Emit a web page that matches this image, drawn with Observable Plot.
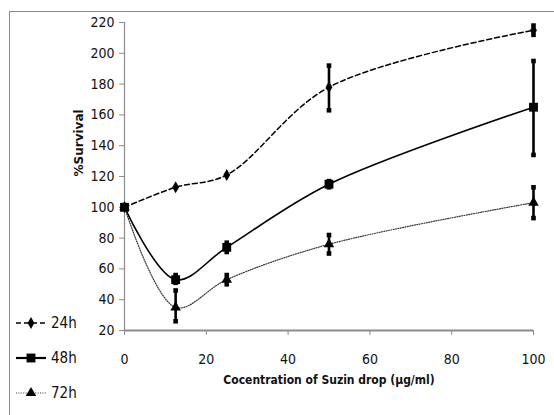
<!DOCTYPE html>
<html><head><meta charset="utf-8">
<script src="https://cdn.jsdelivr.net/npm/d3@7"></script>
<script src="https://cdn.jsdelivr.net/npm/@observablehq/plot@0.6"></script>
<style>
body{margin:0;background:#fff;}
#wrap{position:relative;width:554px;height:415px;overflow:hidden;font-family:"Liberation Sans Narrow","DejaVu Sans Condensed","Roboto",sans-serif;}
#frame{position:absolute;left:9px;top:11px;width:600px;height:500px;border-top:1.5px solid #8c8c8c;border-left:1.5px solid #8c8c8c;}
#chart{position:absolute;left:0;top:0;}
.leg{position:absolute;left:16px;height:20px;display:flex;align-items:center;font-size:15px;color:#111;}
.leg svg{margin-right:4px;}
</style></head>
<body>
<div id="wrap"><div id="frame"></div><div id="chart"></div><div id="legend"></div></div>
<script>
const concentrations = [0, 12.5, 25, 50, 100];
const seriesNames = ["24h", "48h", "72h"];
const surv24 = [100, 113, 121, 178, 215];
const surv48 = [100, 53, 74, 115, 165];
const surv72 = [100, 35, 53, 76, 103];
const err24Low = [null, null, null, 163, 212];
const err24High = [null, null, null, 192, 218];
const err48Low = [null, 51, 71, 113, 134];
const err48High = [null, 56, 77, 117, 195];
const err72Low = [null, 26, 50, 70, 93];
const err72High = [null, 46, 56, 82, 113];
const xTicks = [0, 20, 40, 60, 80, 100];
const yTicks = [20, 40, 60, 80, 100, 120, 140, 160, 180, 200, 220];
const xTitle = "Cocentration of Suzin drop (µg/ml)";
const yTitle = "%Survival";

const vals = {"24h": surv24, "48h": surv48, "72h": surv72};
const lows = {"24h": err24Low, "48h": err48Low, "72h": err72Low};
const highs = {"24h": err24High, "48h": err48High, "72h": err72High};
const rows = seriesNames.flatMap(s => concentrations.map((c, i) => ({series: s, x: c, y: vals[s][i], lo: lows[s][i], hi: highs[s][i]})));
const of = s => rows.filter(r => r.series === s);
const errs = rows.filter(r => r.lo != null);

const style = {
  "24h": {dash: "5,3", width: 1.5, color: "#000", symbol: "diamond", r: 3.6},
  "48h": {dash: null, width: 1.6, color: "#000", symbol: "square", r: 5},
  "72h": {dash: "1,1.4", width: 1.2, color: "#333", symbol: "triangle", r: 3.9}
};

const marks = [
  Plot.ruleX([0], {stroke: "#8c8c8c", strokeWidth: 1.2}),
  Plot.ruleY([20], {stroke: "#8c8c8c", strokeWidth: 2.2}),
  Plot.axisY({ticks: yTicks, tickSize: 5, tickPadding: 5, fontSize: 14, stroke: "#8c8c8c", fill: "#111", label: null}),
  Plot.axisX({ticks: xTicks, tickSize: 5, tickPadding: 19, fontSize: 14, stroke: "#8c8c8c", fill: "#111", label: null})
];
for (const s of seriesNames) {
  const st = style[s];
  marks.push(Plot.line(of(s), {x: "x", y: "y", curve: "catmull-rom", stroke: st.color, strokeWidth: st.width, strokeDasharray: st.dash}));
}
marks.push(Plot.ruleX(errs, {x: "x", y1: "lo", y2: "hi", stroke: "#000", strokeWidth: 2.6}));
marks.push(Plot.dot(errs, {x: "x", y: "lo", symbol: "square", r: 2.6, fill: "#000", stroke: "none"}));
marks.push(Plot.dot(errs, {x: "x", y: "hi", symbol: "square", r: 2.6, fill: "#000", stroke: "none"}));
for (const s of seriesNames) {
  const st = style[s];
  marks.push(Plot.dot(of(s), {x: "x", y: "y", symbol: st.symbol, r: st.r, fill: "#000", stroke: "none"}));
}
marks.push(Plot.text([xTitle], {frameAnchor: "bottom", dy: 53, fontWeight: "bold", fontSize: 12, fill: "#111"}));
marks.push(Plot.text([yTitle], {frameAnchor: "left", dx: -45, rotate: -90, fontWeight: "bold", fontSize: 12, fill: "#111", fontFamily: "DejaVu Sans"}));

const chart = Plot.plot({
  width: 554, height: 415,
  marginLeft: 124, marginRight: 21, marginTop: 22, marginBottom: 85,
  x: {domain: [0, 100]},
  y: {domain: [20, 220]},
  style: {background: "transparent", fontFamily: "'Liberation Sans Narrow','DejaVu Sans Condensed',sans-serif", overflow: "visible"},
  marks
});
document.getElementById("chart").append(chart);

// legend
const legTops = {"24h": 313, "48h": 348, "72h": 383};
const legend = document.getElementById("legend");
for (const s of seriesNames) {
  const st = style[s];
  const div = document.createElement("div");
  div.className = "leg";
  div.style.top = legTops[s] + "px";
  const svg = d3.create("svg").attr("width", 31).attr("height", 20);
  svg.append("line").attr("x1", 0).attr("x2", 30).attr("y1", 10).attr("y2", 10)
    .attr("stroke", st.color).attr("stroke-width", s === "48h" ? 2.2 : st.width)
    .attr("stroke-dasharray", st.dash);
  const sym = {diamond: d3.symbolDiamond, square: d3.symbolSquare, triangle: d3.symbolTriangle}[st.symbol];
  svg.append("path").attr("transform", "translate(15,10)").attr("d", d3.symbol(sym, Math.PI * st.r * st.r)()).attr("fill", "#000");
  div.append(svg.node());
  const t = document.createElement("span");
  t.textContent = s;
  div.append(t);
  legend.append(div);
}
</script>
</body></html>
